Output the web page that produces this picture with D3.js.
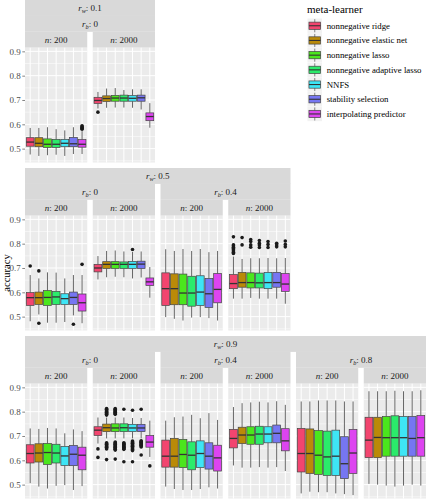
<!DOCTYPE html>
<html><head><meta charset="utf-8">
<script src="https://cdn.jsdelivr.net/npm/d3@7"></script>
<style>body{margin:0;background:#fff} svg{display:block} text{font-family:"Liberation Serif",serif}</style>
</head><body><svg id="c" width="427" height="500"></svg>
<script>
// ---------- data ----------
const learners = ["nonnegative ridge","nonnegative elastic net","nonnegative lasso","nonnegative adaptive lasso","NNFS","stability selection","interpolating predictor"];
const learnerColors = ["#F2456F","#BA8A08","#4BE61D","#2BEB6B","#3EE5F5","#7676F2","#DD44F0"];
const yTicks = [0.5,0.6,0.7,0.8,0.9];
const yMinor = [0.45,0.55,0.65,0.75,0.85];
const yDomain = [0.443,0.915];
const rwLevels = ["0.1","0.5","0.9"];
const rbLevels = [["0"],["0","0.4"],["0","0.4","0.8"]];
const nLevels = ["200","2000"];

// box stats per learner: [lower whisker, q1, median, q3, upper whisker]
const box_w01_b0_n200 = [[0.476,0.510,0.527,0.545,0.585],[0.470,0.508,0.522,0.545,0.585],[0.473,0.505,0.518,0.540,0.588],[0.475,0.505,0.518,0.538,0.580],[0.470,0.508,0.522,0.538,0.575],[0.478,0.508,0.520,0.546,0.588],[0.478,0.506,0.518,0.537,0.572]];
const out_w01_b0_n200 = [[],[],[],[],[],[],[0.580,0.584,0.587,0.590,0.594]];
const box_w01_b0_n2000 = [[0.665,0.686,0.698,0.711,0.733],[0.668,0.694,0.706,0.717,0.747],[0.669,0.695,0.708,0.719,0.749],[0.669,0.695,0.708,0.720,0.741],[0.668,0.695,0.707,0.718,0.744],[0.661,0.695,0.709,0.720,0.744],[0.586,0.615,0.632,0.647,0.687]];
const out_w01_b0_n2000 = [[0.650],[],[],[],[],[],[]];

const box_w05_b0_n200 = [[0.481,0.546,0.578,0.599,0.671],[0.509,0.550,0.578,0.601,0.657],[0.475,0.546,0.579,0.607,0.682],[0.475,0.550,0.581,0.604,0.681],[0.478,0.550,0.574,0.594,0.657],[0.505,0.550,0.579,0.601,0.671],[0.473,0.523,0.557,0.593,0.671]];
const out_w05_b0_n200 = [[0.708],[0.688,0.473],[],[],[],[0.469],[0.715]];
const box_w05_b0_n2000 = [[0.653,0.684,0.700,0.715,0.749],[0.662,0.698,0.715,0.726,0.770],[0.664,0.698,0.715,0.726,0.772],[0.662,0.698,0.715,0.725,0.768],[0.657,0.698,0.715,0.727,0.766],[0.661,0.698,0.716,0.728,0.768],[0.578,0.628,0.643,0.659,0.704]];
const out_w05_b0_n2000 = [[],[],[],[],[0.776],[],[]];
const box_w05_b04_n200 = [[0.498,0.546,0.615,0.680,0.777],[0.491,0.549,0.615,0.676,0.770],[0.484,0.549,0.597,0.675,0.778],[0.496,0.543,0.597,0.666,0.770],[0.498,0.546,0.601,0.668,0.778],[0.494,0.538,0.594,0.657,0.765],[0.484,0.557,0.612,0.677,0.770]];
const out_w05_b04_n200 = [[],[],[],[],[],[],[]];
const box_w05_b04_n2000 = [[0.574,0.615,0.636,0.673,0.747],[0.574,0.621,0.640,0.682,0.737],[0.577,0.618,0.640,0.680,0.740],[0.574,0.618,0.639,0.679,0.740],[0.574,0.615,0.640,0.682,0.741],[0.574,0.621,0.640,0.682,0.740],[0.553,0.604,0.634,0.677,0.741]];
const out_w05_b04_n2000 = [[0.828,0.795,0.790,0.785,0.780,0.775,0.770,0.765,0.760],[0.825,0.795],[0.817,0.809,0.795,0.785],[0.813,0.802,0.795,0.784],[0.809,0.797,0.784],[0.802,0.795,0.787],[0.811,0.797,0.787]];

const box_w09_b0_n200 = [[0.506,0.589,0.628,0.664,0.731],[0.492,0.593,0.630,0.668,0.729],[0.484,0.583,0.632,0.669,0.733],[0.495,0.589,0.630,0.666,0.731],[0.498,0.579,0.618,0.657,0.711],[0.478,0.578,0.625,0.661,0.727],[0.494,0.561,0.621,0.654,0.720]];
const out_w09_b0_n200 = [[],[],[],[],[],[],[]];
const box_w09_b0_n2000 = [[0.669,0.702,0.724,0.738,0.776],[0.690,0.718,0.734,0.749,0.776],[0.690,0.718,0.733,0.750,0.776],[0.690,0.718,0.734,0.750,0.776],[0.690,0.718,0.733,0.748,0.774],[0.690,0.718,0.733,0.748,0.774],[0.614,0.654,0.675,0.702,0.763]];
const out_w09_b0_n2000 = [[0.647,0.612],
  [0.813,0.810,0.807,0.804,0.801,0.798,0.795,0.792,0.789,0.786,0.672,0.669,0.666,0.663,0.660,0.657,0.654,0.651,0.647,0.603],
  [0.813,0.810,0.807,0.804,0.801,0.798,0.795,0.792,0.789,0.675,0.672,0.669,0.666,0.663,0.660,0.657,0.654,0.651,0.648,0.645,0.642,0.605],
  [0.810,0.672,0.669,0.666,0.663,0.660,0.657,0.654,0.651,0.648,0.645,0.594],
  [0.806,0.679,0.676,0.673,0.670,0.667,0.664,0.661,0.658,0.655,0.652,0.648,0.644,0.640,0.594],
  [0.810,0.680,0.677,0.674,0.671,0.668,0.665,0.662,0.659,0.655,0.622],
  [0.577]];
const box_w09_b04_n200 = [[0.492,0.572,0.617,0.683,0.763],[0.482,0.572,0.617,0.690,0.777],[0.478,0.570,0.624,0.686,0.780],[0.478,0.561,0.621,0.676,0.787],[0.482,0.570,0.628,0.680,0.773],[0.489,0.564,0.617,0.672,0.794],[0.484,0.556,0.610,0.662,0.766]];
const out_w09_b04_n200 = [[],[],[],[],[],[],[]];
const box_w09_b04_n2000 = [[0.579,0.651,0.690,0.727,0.819],[0.570,0.669,0.704,0.736,0.835],[0.570,0.666,0.704,0.738,0.838],[0.572,0.666,0.708,0.740,0.841],[0.570,0.672,0.708,0.738,0.838],[0.572,0.672,0.711,0.745,0.843],[0.556,0.639,0.680,0.730,0.828]];
const out_w09_b04_n2000 = [[],[],[],[],[],[],[]];
const box_w09_b08_n200 = [[0.464,0.552,0.628,0.731,0.842],[0.471,0.546,0.628,0.729,0.842],[0.469,0.542,0.621,0.722,0.846],[0.469,0.538,0.614,0.720,0.846],[0.464,0.538,0.617,0.724,0.846],[0.461,0.525,0.586,0.697,0.842],[0.457,0.546,0.630,0.727,0.842]];
const out_w09_b08_n200 = [[],[],[],[],[],[],[]];
const box_w09_b08_n2000 = [[0.503,0.611,0.683,0.777,0.884],[0.500,0.611,0.694,0.777,0.884],[0.496,0.617,0.693,0.780,0.884],[0.492,0.617,0.693,0.783,0.886],[0.496,0.617,0.693,0.780,0.884],[0.500,0.617,0.690,0.780,0.884],[0.496,0.617,0.693,0.784,0.888]];
const out_w09_b08_n2000 = [[],[],[],[],[],[],[]];

const panelData = [
  [[[box_w01_b0_n200,out_w01_b0_n200],[box_w01_b0_n2000,out_w01_b0_n2000]]],
  [[[box_w05_b0_n200,out_w05_b0_n200],[box_w05_b0_n2000,out_w05_b0_n2000]],
   [[box_w05_b04_n200,out_w05_b04_n200],[box_w05_b04_n2000,out_w05_b04_n2000]]],
  [[[box_w09_b0_n200,out_w09_b0_n200],[box_w09_b0_n2000,out_w09_b0_n2000]],
   [[box_w09_b04_n200,out_w09_b04_n200],[box_w09_b04_n2000,out_w09_b04_n2000]],
   [[box_w09_b08_n200,out_w09_b08_n200],[box_w09_b08_n2000,out_w09_b08_n2000]]]
];

// ---------- layout ----------
const svg = d3.select("#c");
const plotLeft = 25, plotRight = 426;
const rowStep = 168, stripH = 15.9, panelTop = 47.7, panelH = 114.8;
const colScale = d3.scaleBand().domain(d3.range(6)).range([plotLeft, plotRight]).paddingInner(5.5/67.75);
const bw = colScale.bandwidth();
const stripFill = "#D9D9D9", panelFill = "#EBEBEB";
const FS = 9;

function mathLabel(g, x, y, varName, sub, value) {
  const t = g.append("text").attr("x", x).attr("y", y).attr("text-anchor","middle")
    .attr("font-size", FS).attr("fill","#1A1A1A");
  t.append("tspan").attr("font-style","italic").text(varName);
  if (sub) t.append("tspan").attr("font-style","italic").attr("font-size", FS*0.7).attr("dy", 2).text(sub);
  t.append("tspan").attr("dy", sub ? -2 : 0).text(": " + value);
}

panelData.forEach((rbGroups, ri) => {
  const top = ri * rowStep;
  const y = d3.scaleLinear().domain(yDomain).range([top + panelTop + panelH, top + panelTop]);
  const ncol = rbGroups.length * 2;
  const g = svg.append("g");
  const x0 = colScale(0), x1 = colScale(ncol - 1) + bw;
  g.append("rect").attr("x", x0).attr("y", top).attr("width", x1 - x0).attr("height", stripH).attr("fill", stripFill);
  mathLabel(g, (x0 + x1) / 2, top + 11, "r", "w", rwLevels[ri]);
  rbGroups.forEach((nGroup, bi) => {
    const bx0 = colScale(bi * 2), bx1 = colScale(bi * 2 + 1) + bw;
    g.append("rect").attr("x", bx0).attr("y", top + stripH - 0.5).attr("width", bx1 - bx0).attr("height", stripH + 0.5).attr("fill", stripFill);
    mathLabel(g, (bx0 + bx1) / 2, top + stripH + 11.5, "r", "b", rbLevels[ri][bi]);
    nGroup.forEach(([stats, outs], ni) => {
      const c = bi * 2 + ni;
      const px = colScale(c);
      g.append("rect").attr("x", px).attr("y", top + 2 * stripH).attr("width", bw).attr("height", panelTop - 2 * stripH).attr("fill", stripFill);
      mathLabel(g, px + bw / 2, top + 2 * stripH + 11.5, "n", null, nLevels[ni]);
      const pg = g.append("g");
      pg.append("rect").attr("x", px).attr("y", top + panelTop).attr("width", bw).attr("height", panelH).attr("fill", panelFill);
      const x = d3.scalePoint().domain(learners).range([px, px + bw]).padding(0.6);
      const bwid = x.step() * 0.9;
      pg.selectAll(".mn").data(yMinor).join("line")
        .attr("x1", px).attr("x2", px + bw).attr("y1", d => y(d)).attr("y2", d => y(d))
        .attr("stroke", "#fff").attr("stroke-width", 0.5);
      pg.selectAll(".mj").data(yTicks).join("line")
        .attr("x1", px).attr("x2", px + bw).attr("y1", d => y(d)).attr("y2", d => y(d))
        .attr("stroke", "#fff").attr("stroke-width", 1);
      pg.selectAll(".vx").data(learners).join("line")
        .attr("x1", d => x(d)).attr("x2", d => x(d)).attr("y1", top + panelTop).attr("y2", top + panelTop + panelH)
        .attr("stroke", "#fff").attr("stroke-width", 1);
      learners.forEach((L, li) => {
        const s = stats[li], cx = x(L);
        const bg = pg.append("g");
        bg.append("line").attr("x1", cx).attr("x2", cx).attr("y1", y(s[4])).attr("y2", y(s[3])).attr("stroke", "#555").attr("stroke-width", 0.9);
        bg.append("line").attr("x1", cx).attr("x2", cx).attr("y1", y(s[1])).attr("y2", y(s[0])).attr("stroke", "#555").attr("stroke-width", 0.9);
        bg.append("rect").attr("x", cx - bwid / 2).attr("y", y(s[3])).attr("width", bwid).attr("height", y(s[1]) - y(s[3]))
          .attr("fill", learnerColors[li]).attr("stroke", "#444").attr("stroke-width", 0.7);
        bg.append("line").attr("x1", cx - bwid / 2).attr("x2", cx + bwid / 2).attr("y1", y(s[2])).attr("y2", y(s[2])).attr("stroke", "#333").attr("stroke-width", 1.3);
        bg.selectAll("circle").data(outs[li]).join("circle").attr("cx", cx).attr("cy", d => y(d)).attr("r", 1.8).attr("fill", "#1A1A1A");
      });
    });
  });
  const ax = svg.append("g").attr("transform", `translate(${plotLeft},0)`)
    .call(d3.axisLeft(y).tickValues(yTicks).tickSize(2.7).tickPadding(1.5).tickFormat(d3.format(".1f")));
  ax.select(".domain").remove();
  ax.selectAll(".tick line").attr("stroke", "#333").attr("stroke-width", 0.6);
  ax.selectAll(".tick text").attr("font-size", 9).attr("fill", "#4D4D4D").attr("font-family", "Liberation Serif, serif");
});

svg.append("text").attr("transform", "translate(10,273) rotate(-90)").attr("text-anchor", "middle")
  .attr("font-size", 10.5).attr("fill", "#000").text("accuracy");

// legend
const lg = svg.append("g");
lg.append("text").attr("x", 307).attr("y", 13).attr("font-size", 11).attr("fill", "#000").text("meta-learner");
const keyS = 14.5, keyStep = 14.7, keyTop = 18.5;
learners.forEach((L, i) => {
  const ky = keyTop + i * keyStep, kx = 307.5;
  lg.append("rect").attr("x", kx).attr("y", ky).attr("width", keyS).attr("height", keyS).attr("fill", "#F2F2F2");
  const cx = kx + keyS / 2;
  lg.append("line").attr("x1", cx).attr("x2", cx).attr("y1", ky + keyS * 0.05).attr("y2", ky + keyS * 0.95).attr("stroke", "#555").attr("stroke-width", 0.7);
  lg.append("rect").attr("x", kx + keyS * 0.1).attr("y", ky + keyS * 0.25).attr("width", keyS * 0.8).attr("height", keyS * 0.5)
    .attr("fill", learnerColors[i]).attr("stroke", "#444").attr("stroke-width", 0.7);
  lg.append("line").attr("x1", kx + keyS * 0.1).attr("x2", kx + keyS * 0.9).attr("y1", ky + keyS / 2).attr("y2", ky + keyS / 2).attr("stroke", "#333").attr("stroke-width", 1.1);
  lg.append("text").attr("x", 326.7).attr("y", ky + keyS / 2 + 3).attr("font-size", 8.8).attr("fill", "#000").text(L);
});
</script></body></html>
